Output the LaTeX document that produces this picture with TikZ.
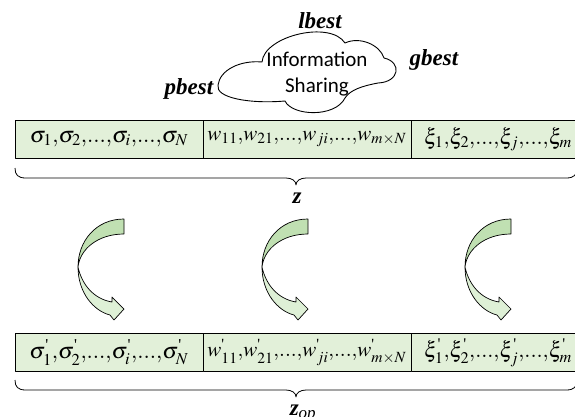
\documentclass[tikz,border=0pt]{standalone}
\usepackage{mathptmx}
\usepackage{amsmath}
\usepackage[no-math]{fontspec}
\setmainfont{Liberation Serif}
\newfontfamily\calibrifont{Carlito}
\definecolor{boxfill}{RGB}{226,240,217}
\definecolor{arrdark}{RGB}{192,224,178}
\definecolor{arrlight}{RGB}{222,240,214}
\newcommand\tk{^{\text{\textquotesingle}}}
\newcommand\cm{{,}}
\newcommand\dd{{.}{.}{.}}
\newcommand\mybrace[1]{\draw[line width=0.8pt] (15,#1) .. controls (15,#1+7) and (18,#1+10) .. (26,#1+10) -- (286,#1+10) .. controls (292,#1+10) and (296,#1+13) .. (296,#1+17) .. controls (296,#1+13) and (300,#1+10) .. (306,#1+10) -- (566,#1+10) .. controls (574,#1+10) and (577,#1+7) .. (577,#1);}
\tikzset{
  lab/.style={font=\fontsize{23}{26}\selectfont\bfseries\itshape, inner sep=0pt, anchor=base},
  cell/.style={draw, line width=0.8pt, fill=boxfill, minimum height=38pt, inner sep=0pt},
  fa/.style={font=\fontsize{22.5}{26}\selectfont},
  fb/.style={font=\fontsize{21}{26}\selectfont},
  fc/.style={font=\fontsize{22}{26}\selectfont},
  carrow/.pic={
    \draw[line width=0.7pt, fill=arrdark] (0,0) .. controls (-28,0) and (-46,22) .. (-46,48) .. controls (-44,30) and (-26,15) .. (0,15) -- cycle;
    \draw[line width=0.7pt, fill=arrlight] (-46,48) .. controls (-46,74) and (-30,92) .. (-14,96) -- (-10,101) -- (0,90) -- (-12,78) -- (-12,83) .. controls (-30,80) and (-42,66) .. (-46,48) -- cycle;
  }
}
\begin{document}
\begin{tikzpicture}[x=1pt,y=-1pt,line join=round]
\useasboundingbox (0,0) rectangle (575,416);
\clip (0,0) rectangle (575,416);
% cloud
\draw[line width=0.9pt] (262,62) .. controls (264,36) and (330,20) .. (345,43)
  .. controls (360,36) and (380,45) .. (384,58)
  .. controls (402,62) and (400,82) .. (378,83)
  .. controls (362,86) and (350,90) .. (345,98)
  .. controls (335,118) and (292,116) .. (285,101)
  .. controls (250,104) and (215,98) .. (218,85)
  .. controls (220,70) and (240,60) .. (262,62) -- cycle;
\node[font=\calibrifont\fontsize{21}{26}\selectfont, align=center, inner sep=0pt] (info) at (317,74) {Information\\Sharing};
\node[lab] (lb) at (320,28) {lbest};
\node[lab] (gb) at (434,65) {gbest};
\node[lab] (pb) at (189,94) {pbest};
% top row
\node[cell, fa, minimum width=188pt] (a1) at (109,139) {$\sigma_1\cm\sigma_2\cm\dd\cm\sigma_i\cm\dd\cm\sigma_N$};
\node[cell, fb, minimum width=208pt] (a2) at (307,139) {$w_{11}\cm w_{21}\cm\dd\cm w_{ji}\cm\dd\cm w_{m\times N}$};
\node[cell, fc, minimum width=174pt] (a3) at (498,139) {$\xi_1\cm\xi_2\cm\dd\cm\xi_j\cm\dd\cm\xi_m$};
\mybrace{168}
\node[lab] (z) at (297,203) {z};
% arrows
\pic at (124,219) {carrow};
\pic at (308,219) {carrow};
\pic at (511,219) {carrow};
% bottom row
\node[cell, fa, minimum width=188pt] (b1) at (109,352.5) {$\sigma\tk_1\cm\sigma\tk_2\cm\dd\cm\sigma\tk_i\cm\dd\cm\sigma\tk_N$};
\node[cell, fb, minimum width=208pt] (b2) at (307,352.5) {$w\tk_{11}\cm w\tk_{21}\cm\dd\cm w\tk_{ji}\cm\dd\cm w\tk_{m\times N}$};
\node[cell, fc, minimum width=174pt] (b3) at (498,352.5) {$\xi\tk_1\cm\xi\tk_2\cm\dd\cm\xi\tk_j\cm\dd\cm\xi\tk_m$};
\mybrace{380}
\node[lab] (zop) at (303,415) {z\textsubscript{\normalfont\itshape op}};
\end{tikzpicture}
\end{document}
